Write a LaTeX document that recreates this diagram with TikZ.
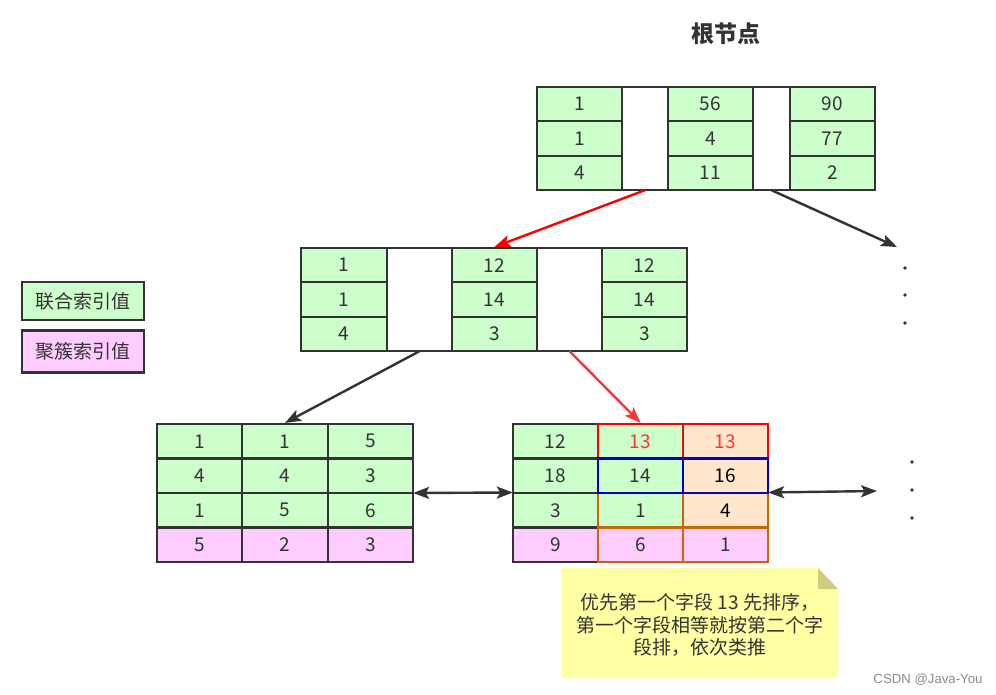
\documentclass[tikz,border=0pt]{standalone}
\usepackage{fontspec}
\setmainfont{Noto Sans CJK SC}
\newfontfamily\wmfont{Liberation Sans}
\usetikzlibrary{arrows.meta}
\definecolor{cgreen}{HTML}{CCFFCC}
\definecolor{cpink}{HTML}{FFCCFF}
\definecolor{cpeach}{HTML}{FFE6CC}
\definecolor{cdark}{HTML}{333333}
\definecolor{cred}{HTML}{FF0000}
\definecolor{clred}{HTML}{FF3333}
\definecolor{cblue}{HTML}{0000CC}
\definecolor{corange}{HTML}{CC6600}
\definecolor{cnote}{HTML}{FFFFA3}
\definecolor{cfold}{HTML}{CDCD7E}
\newcommand\numfont{\fontsize{19}{21}\selectfont}
\tikzset{
  cell/.style={draw=cdark, line width=2.2pt, fill=cgreen, inner sep=0pt,
    minimum height=34.33pt, minimum width=85pt, text=cdark, font=\numfont},
  leafc/.style={cell, minimum height=34.5pt, minimum width=85.3pt},
  pinkc/.style={fill=cpink},
  peachc/.style={fill=cpeach},
  redc/.style={draw=cred},
  bluec/.style={draw=cblue},
  orangec/.style={draw=corange},
  gap/.style={inner sep=0pt, draw=none, fill=none},
  outerbox/.style={draw=cdark, line width=2.2pt, fill=white, inner sep=0pt},
  arr/.style={line width=2.4pt, draw=cdark, -{Stealth[length=16pt,width=12pt,inset=3.5pt]}},
  darr/.style={line width=2.4pt, draw=cdark, {Stealth[length=16pt,width=12pt,inset=3.5pt]}-{Stealth[length=16pt,width=12pt,inset=3.5pt]}},
  dotn/.style={circle, fill=cdark, inner sep=0pt, minimum size=3.8pt},
}
\begin{document}
\begin{tikzpicture}[x=1pt,y=-1pt]
\useasboundingbox (0,0) rectangle (996,695);
\fill[white] (0,0) rectangle (996,695);

% title
\node[font=\fontsize{23}{26}\selectfont\bfseries, text=cdark] (title) at (726,34) {根节点};

% root node
\node[outerbox, minimum width=338pt, minimum height=103pt] (root) at (706,138.5) {};
\node[gap, minimum width=46pt, minimum height=103pt] (rp1) at (645,138.5) {};
\node[gap, minimum width=37pt, minimum height=103pt] (rp2) at (771.5,138.5) {};
\node[cell] (r11) at (579.5,104.17) {1};
\node[cell] (r12) at (710.5,104.17) {56};
\node[cell] (r13) at (832.5,104.17) {90};
\node[cell] (r21) at (579.5,138.5) {1};
\node[cell] (r22) at (710.5,138.5) {4};
\node[cell] (r23) at (832.5,138.5) {77};
\node[cell] (r31) at (579.5,172.83) {4};
\node[cell] (r32) at (710.5,172.83) {11};
\node[cell] (r33) at (832.5,172.83) {2};

% middle node
\node[outerbox, minimum width=386pt, minimum height=103pt] (mid) at (494,299.5) {};
\node[gap, minimum width=65pt, minimum height=103pt] (mp1) at (419.5,299.5) {};
\node[gap, minimum width=65pt, minimum height=103pt] (mp2) at (569.5,299.5) {};
\node[cell, minimum width=86pt] (m11) at (344,265.17) {1};
\node[cell] (m12) at (494.5,265.17) {12};
\node[cell] (m13) at (644.5,265.17) {12};
\node[cell, minimum width=86pt] (m21) at (344,299.5) {1};
\node[cell] (m22) at (494.5,299.5) {14};
\node[cell] (m23) at (644.5,299.5) {14};
\node[cell, minimum width=86pt] (m31) at (344,333.83) {4};
\node[cell] (m32) at (494.5,333.83) {3};
\node[cell] (m33) at (644.5,333.83) {3};

% left leaf
\node[gap, minimum width=256pt, minimum height=138pt] (leafL) at (285,493) {};
\node[leafc] (a11) at (199.5,441.25) {1};
\node[leafc] (a12) at (285,441.25) {1};
\node[leafc] (a13) at (370.5,441.25) {5};
\node[leafc] (a21) at (199.5,475.75) {4};
\node[leafc] (a22) at (285,475.75) {4};
\node[leafc] (a23) at (370.5,475.75) {3};
\node[leafc] (a31) at (199.5,510.25) {1};
\node[leafc] (a32) at (285,510.25) {5};
\node[leafc] (a33) at (370.5,510.25) {6};
\node[leafc, pinkc] (a41) at (199.5,544.75) {5};
\node[leafc, pinkc] (a42) at (285,544.75) {2};
\node[leafc, pinkc] (a43) at (370.5,544.75) {3};

% right leaf
\node[gap, minimum width=255pt, minimum height=137pt] (leafR) at (640.5,492.5) {};
\node[leafc, minimum width=85pt] (b11) at (555.5,441.25) {12};
\node[leafc, minimum width=85pt] (b21) at (555.5,475.75) {18};
\node[leafc, minimum width=85pt] (b31) at (555.5,510.25) {3};
\node[leafc, minimum width=85pt, pinkc] (b41) at (555.5,544.75) {9};
\node[leafc, minimum width=85pt, orangec] (b32) at (640.5,510.25) {1};
\node[leafc, minimum width=85pt, orangec, peachc, text=black] (b33) at (725.5,510.25) {4};
\node[leafc, minimum width=85pt, orangec, pinkc] (b42) at (640.5,544.75) {6};
\node[leafc, minimum width=85pt, orangec, pinkc] (b43) at (725.5,544.75) {1};
\node[leafc, minimum width=85pt, redc, text=clred] (b12) at (640.5,441.25) {13};
\node[leafc, minimum width=85pt, redc, peachc, text=clred] (b13) at (725.5,441.25) {13};
\node[leafc, minimum width=85pt, bluec] (b22) at (640.5,475.75) {14};
\node[leafc, minimum width=85pt, bluec, peachc, text=black] (b23) at (725.5,475.75) {16};

% legend
\node[cell, minimum width=122pt, minimum height=38pt] (lg1) at (83,301) {联合索引值};
\node[cell, pinkc, minimum width=122pt, minimum height=42pt] (lg2) at (83,351.5) {聚簇索引值};

% dots
\node[dotn] (d1) at (905,268) {};
\node[dotn] (d2) at (905,295) {};
\node[dotn] (d3) at (905,323) {};
\node[dotn] (d4) at (912,462) {};
\node[dotn] (d5) at (912,490) {};
\node[dotn] (d6) at (912,518) {};
\coordinate (rtip) at (897,247);
\coordinate (rrtip) at (877,491);

% connectors
\draw[arr, draw=cred] (rp1.south) -- (m12.north);
\draw[arr] (rp2.south) -- (rtip);
\draw[arr] (mp1.south) -- (a12.north);
\draw[arr, draw=clred] (mp2.south) -- (b12.north);
\draw[darr] (leafL.east) -- (leafR.west);
\draw[darr] (leafR.east) -- (rrtip);

% note
\fill[cnote] (562,568) -- (818,568) -- (838,589) -- (838,678) -- (562,678) -- cycle;
\fill[cfold] (818,568) -- (838,589) -- (818,589) -- cycle;
\node[align=center, text=cdark, font=\fontsize{19}{22.5}\selectfont] (note) at (700,625)
  {优先第一个字段 13 先排序，\\第一个字段相等就按第二个字\\段排，依次类推};

% watermark
\node[font=\wmfont\fontsize{13.2}{15}\selectfont, text=black!45] (wm) at (928,680) {CSDN @Java-You};
\end{tikzpicture}
\end{document}
